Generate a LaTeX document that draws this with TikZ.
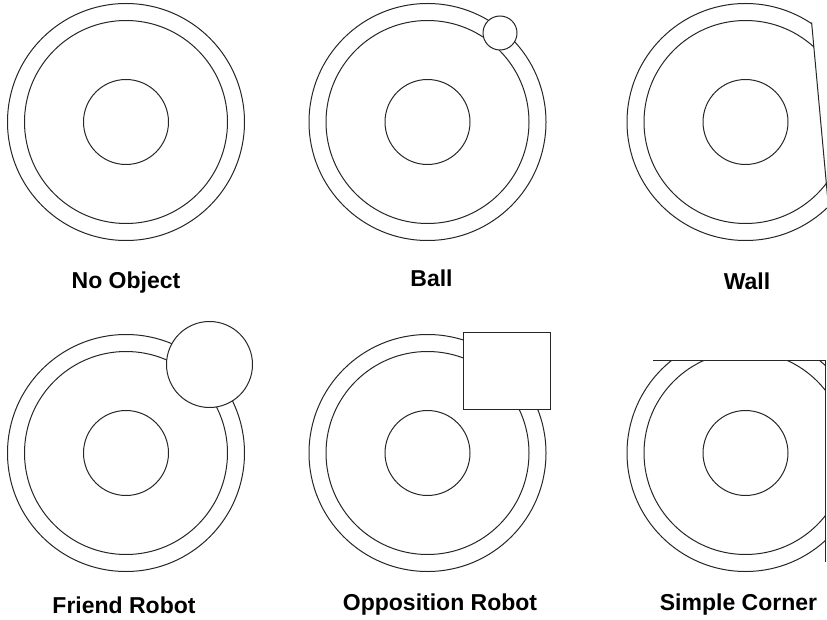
\documentclass[tikz,border=0pt]{standalone}
\usepackage{fontspec}
\setmainfont{Liberation Sans}
\begin{document}
\begin{tikzpicture}[x=1pt,y=-1pt,line width=1pt,
  ring/.style={draw=black!85},
  obj/.style={draw=black!85,fill=white},
  lbl/.style={font=\fontsize{23}{27}\selectfont\bfseries,anchor=base,inner sep=0pt}]
\useasboundingbox (0,0) rectangle (827,620);
\clip (0,0) rectangle (827,620);
% ---------- Panel 1: No Object
\coordinate (c1) at (126,122);
\draw[ring] (c1) circle[radius=42.5pt];
\draw[ring] (c1) circle[radius=101.5pt];
\draw[ring] (c1) circle[radius=118.5pt];
\node[lbl] (l1) at (126,288) {No Object};
% ---------- Panel 2: Ball
\coordinate (c2) at (427.5,122);
\draw[ring] (c2) circle[radius=42.5pt];
\draw[ring] (c2) circle[radius=101.5pt];
\draw[ring] (c2) circle[radius=118.5pt];
\node[obj,circle,minimum size=34pt,inner sep=0pt] (ball) at (500,33) {};
\node[lbl] (l2) at (431.5,287) {Ball};
% ---------- Panel 3: Wall
\coordinate (c3) at (745.5,122);
\begin{scope}
  \clip (600,-10) -- (808.7,-10) -- (833,255) -- (600,255) -- cycle;
  \draw[ring] (c3) circle[radius=42.5pt];
  \draw[ring] (c3) circle[radius=101.5pt];
  \draw[ring] (c3) circle[radius=118.5pt];
\end{scope}
\coordinate (w1) at (811.6,22.5);
\coordinate (w2) at (828.5,207);
\draw[ring] (w1) -- (w2);
\node[lbl] (l3) at (747,290) {Wall};
% ---------- Panel 4: Friend Robot
\coordinate (c4) at (126,453);
\draw[ring] (c4) circle[radius=42.5pt];
\draw[ring] (c4) circle[radius=101.5pt];
\draw[ring] (c4) circle[radius=118.5pt];
\node[obj,circle,minimum size=86pt,inner sep=0pt] (friend) at (209.5,364.5) {};
\node[lbl] (l4) at (124,613) {Friend Robot};
% ---------- Panel 5: Opposition Robot
\coordinate (c5) at (427.5,453);
\draw[ring] (c5) circle[radius=42.5pt];
\draw[ring] (c5) circle[radius=101.5pt];
\draw[ring] (c5) circle[radius=118.5pt];
\node[obj,rectangle,minimum width=87pt,minimum height=77pt,inner sep=0pt] (opp) at (506.5,370.5) {};
\node[lbl] (l5) at (440,610) {Opposition Robot};
% ---------- Panel 6: Simple Corner
\coordinate (c6) at (745.5,453);
\begin{scope}
  \clip (600,360) rectangle (825,600);
  \draw[ring] (c6) circle[radius=42.5pt];
  \draw[ring] (c6) circle[radius=101.5pt];
  \draw[ring] (c6) circle[radius=118.5pt];
\end{scope}
\coordinate (k1) at (653,360);
\coordinate (k2) at (825,360);
\coordinate (k3) at (825,562);
\draw[ring] (k1) -- (k2) -- (k3);
\node[lbl] (l6) at (738.5,610) {Simple Corner};
\end{tikzpicture}
\end{document}
